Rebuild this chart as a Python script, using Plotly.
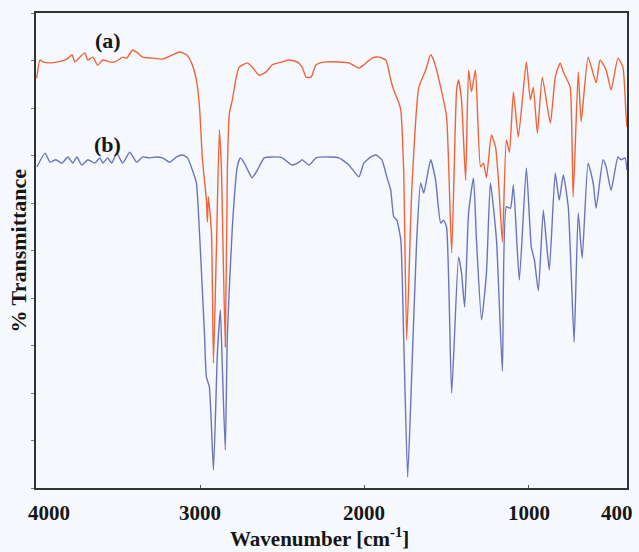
import plotly.graph_objects as go

# FTIR spectra, wavenumber in cm^-1 and transmittance in arbitrary % units
wn_a = [3996, 3976, 3958, 3915, 3866, 3812, 3781, 3763, 3733, 3703, 3684, 3654, 3624, 3593,
        3551, 3520, 3490, 3472, 3448, 3411, 3381, 3350, 3290, 3229, 3168, 3126, 3083, 3053,
        3023, 3004, 2986, 2962, 2956, 2950, 2931, 2919, 2901, 2883, 2871, 2847, 2834, 2822,
        2804, 2780, 2762, 2713, 2683, 2640, 2598, 2561, 2500, 2458, 2409, 2379, 2355, 2324,
        2294, 2233, 2154, 2094, 2033, 2003, 1954, 1912, 1869, 1839, 1821, 1790, 1778, 1760,
        1742, 1711, 1669, 1626, 1596, 1578, 1535, 1499, 1468, 1438, 1426, 1408, 1383, 1365,
        1347, 1323, 1292, 1274, 1256, 1226, 1201, 1183, 1159, 1135, 1116, 1092, 1062, 1013,
        989, 971, 946, 916, 867, 837, 807, 788, 770, 746, 728, 697, 679, 637, 588, 564, 527,
        497, 455, 425, 406, 400]
t_a = [86.3, 90.1, 89.7, 89.5, 89.7, 90.3, 91.2, 89.7, 90.7, 91.6, 90.1, 90.7, 89.0, 90.1,
       89.7, 89.7, 90.3, 90.7, 90.5, 92.2, 91.6, 90.7, 90.5, 90.3, 91.2, 91.8, 91.2, 89.5,
       85.9, 80.2, 69.1, 60.6, 56.0, 61.3, 53.7, 26.3, 50.5, 75.4, 67.6, 29.7, 67.6, 78.9,
       81.7, 86.5, 88.6, 89.5, 88.6, 86.9, 87.6, 89.1, 89.7, 90.1, 89.7, 88.6, 86.5, 86.5,
       89.1, 89.7, 89.7, 89.5, 88.4, 89.1, 90.5, 90.7, 90.1, 85.9, 83.8, 81.1, 79.6, 66.3,
       31.2, 62.7, 84.2, 88.0, 91.2, 90.1, 84.4, 78.1, 49.5, 83.8, 85.9, 81.7, 64.8, 88.0,
       83.4, 88.0, 67.6, 68.4, 65.3, 74.3, 71.8, 64.8, 51.8, 73.3, 70.7, 83.4, 73.9, 89.7,
       81.7, 84.4, 74.7, 86.5, 76.8, 86.5, 89.5, 87.6, 86.3, 84.4, 61.3, 87.6, 77.1, 90.7,
       85.3, 90.1, 88.0, 83.8, 90.5, 88.6, 78.5, 76.0]

wn_b = [3994, 3945, 3915, 3879, 3842, 3806, 3775, 3751, 3721, 3684, 3642, 3611, 3593, 3563,
        3539, 3508, 3472, 3429, 3387, 3350, 3308, 3265, 3229, 3186, 3144, 3108, 3077, 3047,
        3023, 3004, 2974, 2962, 2944, 2919, 2895, 2877, 2865, 2847, 2834, 2804, 2774, 2755,
        2731, 2701, 2683, 2652, 2610, 2561, 2500, 2440, 2397, 2379, 2336, 2294, 2215, 2154,
        2094, 2033, 2003, 1960, 1930, 1893, 1863, 1839, 1821, 1802, 1778, 1760, 1736, 1711,
        1681, 1657, 1638, 1596, 1566, 1535, 1517, 1499, 1468, 1426, 1408, 1389, 1365, 1335,
        1317, 1286, 1256, 1232, 1195, 1159, 1135, 1110, 1092, 1056, 1013, 983, 964, 940, 910,
        892, 873, 837, 813, 788, 758, 740, 722, 697, 673, 637, 606, 588, 546, 527, 497, 455,
        436, 412, 400]
t_b = [67.6, 70.5, 68.6, 69.1, 68.4, 69.7, 68.4, 69.7, 68.0, 69.1, 68.4, 69.5, 68.4, 69.5,
       68.4, 70.5, 68.4, 70.7, 68.6, 69.7, 69.5, 69.7, 69.5, 68.6, 69.7, 70.1, 69.5, 66.9,
       64.2, 53.7, 32.6, 23.4, 21.3, 3.8, 28.4, 37.5, 25.5, 8.0, 32.6, 54.9, 67.6, 69.5,
       68.4, 66.3, 65.3, 66.9, 69.5, 69.7, 69.5, 68.0, 68.6, 69.1, 68.0, 69.5, 69.7, 69.5,
       68.0, 65.5, 68.4, 69.7, 70.1, 69.1, 65.5, 62.7, 57.1, 56.4, 52.2, 31.2, 2.3, 24.2,
       52.2, 64.2, 62.1, 69.1, 64.8, 55.8, 56.4, 54.9, 20.0, 48.6, 45.3, 38.1, 57.9, 65.3,
       52.2, 35.4, 45.3, 64.2, 52.2, 24.6, 59.2, 58.9, 63.8, 43.8, 67.4, 50.7, 48.0, 41.5,
       58.5, 52.2, 45.9, 66.3, 60.6, 65.9, 59.2, 45.3, 30.7, 57.9, 48.4, 68.4, 64.2, 58.9,
       69.1, 67.6, 62.7, 69.7, 69.1, 69.5, 66.9]

tick_vals = [4000, 3000, 2000, 1000, 400]
tick_text = ["4000", "3000", "2000", "1000", "400"]
series_labels = ["(a)", "(b)"]

SERIF = "Liberation Serif, Times New Roman, serif"
BG = "#f5f9fd"
INK = "#161616"

fig = go.Figure()
fig.add_trace(go.Scatter(x=wn_a, y=t_a, mode="lines",
                         line=dict(color="#f0643a", width=1.4, shape="spline", smoothing=0.5),
                         showlegend=False))
fig.add_trace(go.Scatter(x=wn_b, y=t_b, mode="lines",
                         line=dict(color="#6b74bb", width=1.4, shape="spline", smoothing=0.5),
                         showlegend=False))

# curve labels
fig.add_annotation(x=3563, y=94.3, text="<b>%s</b>" % series_labels[0], showarrow=False,
                   font=dict(family=SERIF, size=22, color=INK))
fig.add_annotation(x=3563, y=72.4, text="<b>%s</b>" % series_labels[1], showarrow=False,
                   font=dict(family=SERIF, size=22, color=INK))

# bottom tick labels; the two edge labels are nudged inward so they stay on the page
shifts = [13, 0, 0, 0, -10]
for v, txt, s in zip(tick_vals, tick_text, shifts):
    fig.add_annotation(x=v, y=0, yref="y", text="<b>%s</b>" % txt, showarrow=False,
                       yanchor="middle", yshift=-25, xshift=s,
                       font=dict(family=SERIF, size=21, color=INK))

# axis titles
fig.add_annotation(x=0.48, xref="paper", y=0, yref="paper", yshift=-49, yanchor="middle",
                   text="<b>Wavenumber [cm<sup>-1</sup>]</b>", showarrow=False,
                   font=dict(family=SERIF, size=21, color=INK))
fig.add_annotation(x=0, xref="paper", xshift=-18, xanchor="center", y=0.5, yref="paper",
                   yanchor="middle", textangle=-90,
                   text="<b>% Transmittance</b>", showarrow=False,
                   font=dict(family=SERIF, size=22, color=INK))

fig.update_layout(
    width=639, height=552,
    margin=dict(l=36, r=10, t=13, b=64),
    paper_bgcolor=BG, plot_bgcolor=BG,
    xaxis=dict(range=[4000, 400], tickvals=tick_vals, showticklabels=False,
               ticks="inside", ticklen=3, tickcolor="#555",
               showgrid=False, zeroline=False, showline=True, linecolor="#333",
               linewidth=1.5, mirror=True),
    yaxis=dict(range=[0, 100], dtick=10, showticklabels=False,
               ticks="outside", ticklen=3, tickcolor="#777",
               showgrid=False, zeroline=False, showline=True, linecolor="#333",
               linewidth=1.5, mirror=True),
)

fig.write_html("out.html")
